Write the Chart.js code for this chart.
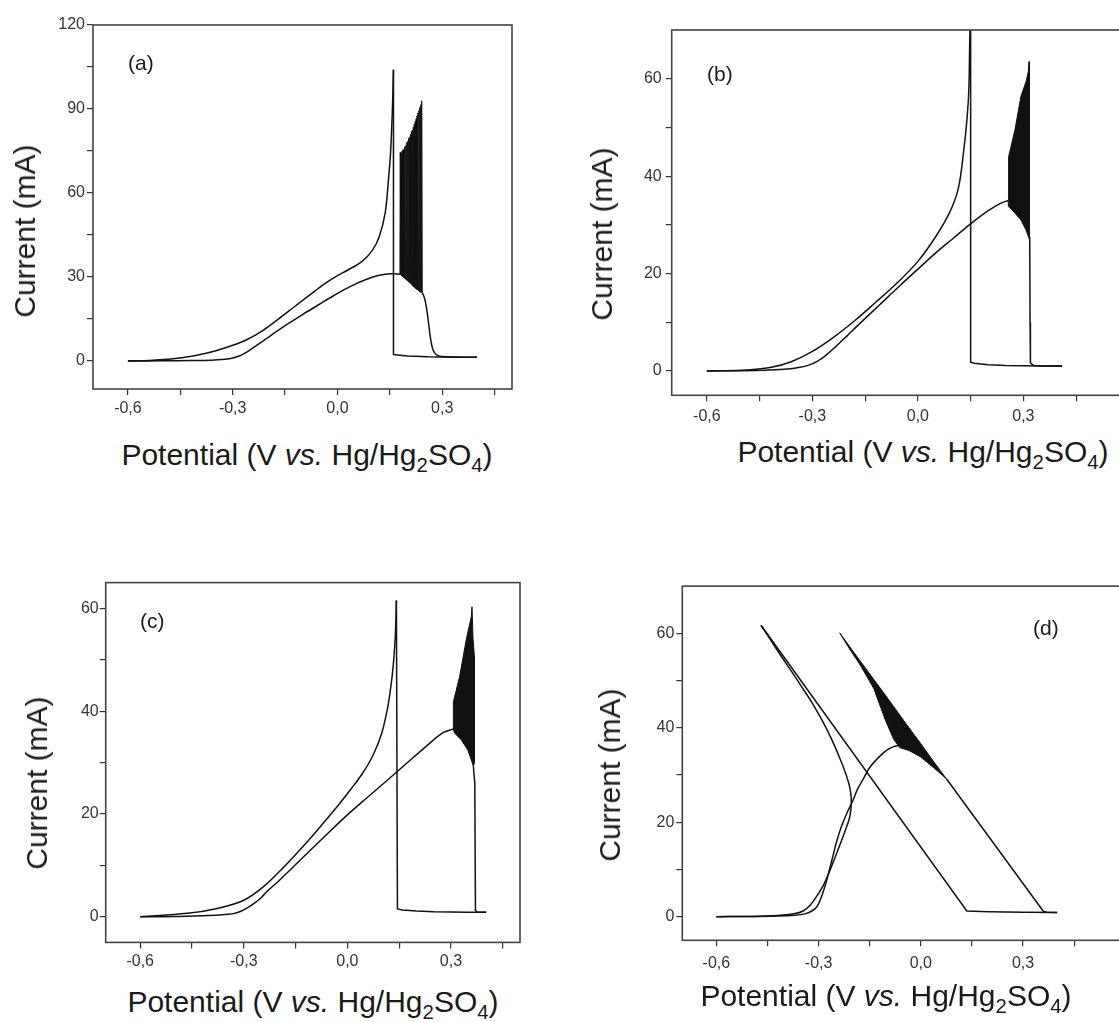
<!DOCTYPE html>
<html>
<head>
<meta charset="utf-8">
<title>Voltammograms (a)-(d)</title>
<script src="https://cdn.jsdelivr.net/npm/chart.js@4"></script>
<style>
  body { margin: 0; width: 1119px; height: 1022px; overflow: hidden; background: #fff;
         font-family: "Liberation Sans", Arial, sans-serif; color: #1a1a1a; }
  .panel { position: absolute; }
  .xt, .yt, .lab { position: absolute; white-space: nowrap; line-height: 30px; }
  .xt, .yt { font-size: 30px; }
  .xt { transform: translate(-50%, -50%); }
  .yt { transform: translate(-50%, -50%) rotate(-90deg); }
  .lab { font-size: 21px; line-height: 21px; transform: translateY(-50%); }
  sub { font-size: 0.68em; vertical-align: -0.32em; line-height: 0; }
</style>
</head>
<body>

<div class="panel" style="left:0;top:0;width:540px;height:425px"><canvas id="chartA"></canvas></div>
<div class="panel" style="left:560px;top:0;width:580px;height:430px"><canvas id="chartB"></canvas></div>
<div class="panel" style="left:0;top:540px;width:540px;height:440px"><canvas id="chartC"></canvas></div>
<div class="panel" style="left:560px;top:540px;width:580px;height:440px"><canvas id="chartD"></canvas></div>

<div class="lab" style="left:128px;top:62px">(a)</div>
<div class="lab" style="left:707px;top:73px">(b)</div>
<div class="lab" style="left:140px;top:620px">(c)</div>
<div class="lab" style="left:1033px;top:627px">(d)</div>

<div class="yt" style="left:25px;top:231px">Current (mA)</div>
<div class="yt" style="left:602px;top:234px">Current (mA)</div>
<div class="yt" style="left:37px;top:783px">Current (mA)</div>
<div class="yt" style="left:610px;top:775px">Current (mA)</div>

<div class="xt" style="left:307px;top:455px">Potential (V <i>vs.</i> Hg/Hg<sub>2</sub>SO<sub>4</sub>)</div>
<div class="xt" style="left:923px;top:452px">Potential (V <i>vs.</i> Hg/Hg<sub>2</sub>SO<sub>4</sub>)</div>
<div class="xt" style="left:313px;top:1002px">Potential (V <i>vs.</i> Hg/Hg<sub>2</sub>SO<sub>4</sub>)</div>
<div class="xt" style="left:886px;top:996px">Potential (V <i>vs.</i> Hg/Hg<sub>2</sub>SO<sub>4</sub>)</div>

<script>
// tick values and labels (potential axis is the same on all four panels)
const xTicks = [-0.6, -0.45, -0.3, -0.15, 0, 0.15, 0.3, 0.45];
const xTickText = ['-0,6', '', '-0,3', '', '0,0', '', '0,3', ''];
const yTicksA = [0, 15, 30, 45, 60, 75, 90, 105, 120];
const yTickTextA = ['0', '', '30', '', '60', '', '90', '', '120'];
const yTicks = [0, 10, 20, 30, 40, 50, 60];
const yTickText = ['0', '', '20', '', '40', '', '60'];

// ---- panel (a) ----
const aFwdV = [-0.6, -0.5, -0.42, -0.36, -0.33, -0.305, -0.285, -0.265, -0.245, -0.225, -0.2, -0.17, -0.14, -0.1, -0.055, -0.01, 0.035, 0.08, 0.12, 0.155, 0.179];
const aFwdI = [0, 0.05, 0.15, 0.3, 0.5, 0.9, 1.6, 2.8, 4.4, 6.1, 8.3, 10.9, 13.4, 16.6, 20.0, 23.4, 26.5, 29.0, 30.6, 31.2, 31.0];
const aOscV = [0.179, 0.18, 0.1817, 0.1827, 0.1843, 0.1853, 0.187, 0.188, 0.1897, 0.1907, 0.1923, 0.1933, 0.195, 0.196, 0.1977, 0.1987,
  0.2003, 0.2013, 0.203, 0.204, 0.2057, 0.2067, 0.2083, 0.2093, 0.211, 0.212, 0.2137, 0.2147, 0.2163, 0.2173, 0.219, 0.22,
  0.2217, 0.2227, 0.2243, 0.2253, 0.227, 0.228, 0.2297, 0.2307, 0.2323, 0.2333, 0.235, 0.236, 0.2377, 0.2387, 0.2403, 0.2413, 0.243];
const aOscI = [31, 74.5, 30.7, 74, 30.4, 75, 30.1, 75.5, 29.8, 74.5, 29.5, 76.5, 29.2, 77, 28.9, 78, 28.6, 78.5, 28.3, 79.5, 28, 80, 27.7, 81,
  27.4, 82, 27.1, 82.5, 26.8, 83.5, 26.5, 84.5, 26.2, 85.5, 25.9, 86.5, 25.6, 87.5, 25.3, 88.5, 25, 89.5, 24.8, 90.5, 24.6, 91.5, 24.4, 93, 24.3];
const aDecV = [0.243, 0.248, 0.253, 0.258, 0.263, 0.268, 0.273, 0.279, 0.287, 0.3, 0.33, 0.4];
const aDecI = [24.3, 23, 20.5, 16.5, 11.5, 7, 4.3, 2.8, 2.0, 1.6, 1.4, 1.3];
const aJumpV = [0.4, 0.33, 0.26, 0.2, 0.165, 0.161, 0.1605];
const aJumpI = [1.3, 1.35, 1.5, 1.8, 2.2, 2.4, 104];
const aRevV = [0.1605, 0.1585, 0.156, 0.152, 0.146, 0.137, 0.12, 0.1, 0.07, 0.03, 0.0, -0.04, -0.08, -0.125, -0.17, -0.215, -0.26, -0.3, -0.35, -0.41, -0.47, -0.54, -0.6];
const aRevI = [104, 94, 85, 74, 64.5, 53, 44.5, 39.5, 35.5, 32.5, 30.5, 27.3, 23.5, 19.2, 14.9, 10.8, 7.6, 5.6, 3.6, 1.9, 0.8, 0.2, 0];

// ---- panel (b) ----
const bFwdV = [-0.6, -0.5, -0.42, -0.37, -0.34, -0.31, -0.285, -0.26, -0.235, -0.2, -0.17, -0.11, -0.05, 0.0, 0.05, 0.1, 0.15, 0.2, 0.235, 0.257];
const bFwdI = [0, 0.05, 0.2, 0.4, 0.7, 1.2, 2.0, 3.3, 4.9, 7.3, 9.4, 13.5, 17.6, 20.9, 24.2, 27.2, 30.2, 32.9, 34.4, 35];
const bBandV = [0.257, 0.258, 0.276, 0.293, 0.308, 0.314, 0.316, 0.318, 0.318, 0.316, 0.307, 0.293, 0.276, 0.258, 0.257];
const bBandI = [35, 44, 49.5, 56.4, 59.5, 61.5, 63.5, 60, 27.5, 27, 29, 31, 32.4, 33.8, 35];
const bDropV = [0.318, 0.319, 0.32, 0.33, 0.36, 0.41];
const bDropI = [27.5, 10, 1.6, 1.1, 1.0, 1.0];
const bJumpV = [0.41, 0.35, 0.3, 0.25, 0.2, 0.16, 0.151, 0.15];
const bJumpI = [1.0, 1.0, 1.05, 1.1, 1.25, 1.6, 1.8, 74];
const bRevV = [0.15, 0.1475, 0.145, 0.14, 0.13, 0.115, 0.09, 0.05, 0.0, -0.06, -0.12, -0.18, -0.24, -0.3, -0.36, -0.42, -0.5, -0.6];
const bRevI = [74, 68, 58, 52, 45, 37.5, 32.5, 27.5, 22.5, 18.0, 14.1, 10.3, 6.9, 4.0, 1.9, 0.7, 0.15, 0];

// ---- panel (c) ----
const cFwdV = [-0.6, -0.5, -0.42, -0.37, -0.33, -0.31, -0.29, -0.27, -0.25, -0.233, -0.2, -0.175, -0.117, -0.06, 0.0, 0.056, 0.113, 0.171, 0.229, 0.277, 0.306];
const cFwdI = [0, 0.05, 0.2, 0.35, 0.6, 1.0, 1.7, 2.6, 3.7, 4.9, 6.9, 8.5, 12.3, 16.0, 19.8, 23.1, 26.4, 29.8, 33.2, 35.8, 36.5];
const cBandV = [0.306, 0.307, 0.325, 0.344, 0.359, 0.361, 0.364, 0.368, 0.368, 0.365, 0.359, 0.349, 0.33, 0.311, 0.306];
const cBandI = [36.5, 41.8, 46.7, 53.8, 58.4, 60.3, 54, 50.6, 30, 29.2, 30.5, 32.4, 34.4, 35.7, 36.5];
const cDropV = [0.365, 0.369, 0.371, 0.376, 0.402];
const cDropI = [29.2, 26, 1.2, 0.9, 0.85];
const cJumpV = [0.402, 0.35, 0.3, 0.25, 0.2, 0.16, 0.145, 0.142];
const cJumpI = [0.85, 0.85, 0.9, 0.95, 1.1, 1.3, 1.5, 61.5];
const cRevV = [0.142, 0.1405, 0.138, 0.133, 0.126, 0.117, 0.1, 0.075, 0.045, 0.01, -0.03, -0.075, -0.12, -0.185, -0.242, -0.3, -0.377, -0.463, -0.6];
const cRevI = [61.5, 57.5, 53.5, 49, 44.8, 40.8, 35.8, 31.5, 28.0, 24.8, 21.4, 17.8, 14.3, 9.6, 5.9, 3.2, 1.6, 0.65, 0];

// ---- panel (d) ----
const dFwdV = [-0.6, -0.5, -0.42, -0.37, -0.34, -0.32, -0.305, -0.295, -0.285, -0.275, -0.266, -0.256, -0.246, -0.232, -0.217, -0.2, -0.187, -0.168, -0.148, -0.12, -0.099, -0.08, -0.065];
const dFwdI = [0, 0.05, 0.12, 0.3, 0.6, 1.2, 2.1, 3.6, 5.6, 8.0, 10.6, 13.4, 16.2, 19.3, 21.9, 24.5, 26.8, 29.3, 31.8, 34.0, 35.3, 36.0, 36.3];
const dBandV = [-0.238, -0.2, -0.15, -0.1, -0.05, 0.0, 0.04, 0.075, 0.04, 0.0, -0.035, -0.062, -0.08, -0.104, -0.138, -0.178, -0.212, -0.238];
const dBandI = [60.1, 56.3, 51.4, 46.5, 41.5, 36.6, 32.6, 29.2, 31.4, 33.8, 35.2, 35.8, 37.6, 41.6, 48.3, 53.3, 57, 60.1];
const dPassV = [0.075, 0.36, 0.37, 0.4];
const dPassI = [29.2, 1.1, 0.95, 0.9];
const dLineV = [0.4, 0.3, 0.2, 0.135, -0.469];
const dLineI = [0.9, 0.95, 1.05, 1.2, 61.7];
const dRetV = [-0.469, -0.44, -0.41, -0.38, -0.35, -0.32, -0.29, -0.262, -0.238, -0.219, -0.207, -0.204, -0.209, -0.222, -0.236, -0.252, -0.268, -0.285, -0.305, -0.325, -0.345, -0.373, -0.42, -0.5, -0.6];
const dRetI = [61.7, 58.5, 55.2, 52.0, 48.7, 45.4, 41.6, 37.6, 33.6, 30, 26.8, 24, 21, 18.2, 15.5, 12.5, 9.6, 6.8, 4.4, 2.4, 1.2, 0.6, 0.25, 0.06, 0];

const INK = '#111';
const FONT = '"Liberation Sans", Arial, sans-serif';

function trace(vs, is, extra) {
  return Object.assign({
    data: vs.map((v, k) => ({ x: v, y: is[k] })),
    showLine: true,
    pointRadius: 0,
    borderColor: INK,
    borderWidth: 1.5,
    tension: 0,
    fill: false
  }, extra || {});
}
function smooth(vs, is) { return trace(vs, is, { tension: 0.35 }); }
function band(vs, is) { return trace(vs, is, { fill: 'shape', backgroundColor: INK, borderWidth: 1 }); }

// box around the plot area
const framePlugin = {
  id: 'frame',
  afterDatasetsDraw(chart) {
    const { ctx, chartArea: a } = chart;
    ctx.save();
    ctx.strokeStyle = '#444';
    ctx.lineWidth = 1.6;
    ctx.strokeRect(a.left, a.top, a.right - a.left, a.bottom - a.top);
    ctx.restore();
  }
};

function makePanel(id, p) {
  new Chart(document.getElementById(id), {
    type: 'scatter',
    data: { datasets: p.sets },
    options: {
      responsive: true,
      maintainAspectRatio: false,
      animation: false,
      events: [],
      layout: { padding: { top: p.padTop, right: p.padRight, left: 0, bottom: 0 } },
      plugins: { legend: { display: false }, tooltip: { enabled: false } },
      scales: {
        x: {
          type: 'linear', min: -0.7, max: p.xMax,
          afterFit: s => { s.height = p.xH; },
          afterBuildTicks: s => { s.ticks = xTicks.map(v => ({ value: v })); },
          grid: { drawOnChartArea: false, tickLength: 6, color: '#333', lineWidth: 1.2 },
          border: { display: false },
          ticks: { callback: (v, i) => xTickText[i], autoSkip: false, maxRotation: 0,
                   padding: p.xPad, color: '#333', font: { family: FONT, size: 16 } }
        },
        y: {
          type: 'linear', min: p.yMin, max: p.yMax,
          afterFit: s => { s.width = p.yW; },
          afterBuildTicks: s => { s.ticks = p.yTicks.map(v => ({ value: v })); },
          grid: { drawOnChartArea: false, tickLength: 6, color: '#333', lineWidth: 1.2 },
          border: { display: false },
          ticks: { callback: (v, i) => p.yText[i], autoSkip: false,
                   padding: p.yPad, color: '#333', font: { family: FONT, size: 16 } }
        }
      }
    },
    plugins: [framePlugin]
  });
}

makePanel('chartA', {
  padTop: 25, padRight: 28, yW: 93, xH: 36, xPad: 4, yPad: 2,
  xMax: 0.5, yMin: -10, yMax: 120, yTicks: yTicksA, yText: yTickTextA,
  sets: [smooth(aFwdV, aFwdI), trace(aOscV, aOscI, { borderWidth: 1 }), smooth(aDecV, aDecI),
         trace(aJumpV, aJumpI), smooth(aRevV, aRevI)]
});
makePanel('chartB', {
  padTop: 30, padRight: 11.1, yW: 111.7, xH: 34.7, xPad: 6, yPad: 4,
  xMax: 0.6, yMin: -5, yMax: 70, yTicks: yTicks, yText: yTickText,
  sets: [smooth(bFwdV, bFwdI), band(bBandV, bBandI), trace(bDropV, bDropI),
         trace(bJumpV, bJumpI), smooth(bRevV, bRevI)]
});
makePanel('chartC', {
  padTop: 42.6, padRight: 20, yW: 105.7, xH: 37.6, xPad: 4, yPad: 1,
  xMax: 0.5, yMin: -5, yMax: 65, yTicks: yTicks, yText: yTickText,
  sets: [smooth(cFwdV, cFwdI), band(cBandV, cBandI), trace(cDropV, cDropI),
         trace(cJumpV, cJumpI), smooth(cRevV, cRevI)]
});
makePanel('chartD', {
  padTop: 46.1, padRight: 14.7, yW: 122.3, xH: 39.7, xPad: 8, yPad: 2,
  xMax: 0.6, yMin: -5, yMax: 70, yTicks: yTicks, yText: yTickText,
  sets: [smooth(dFwdV, dFwdI), band(dBandV, dBandI), trace(dPassV, dPassI),
         trace(dLineV, dLineI), smooth(dRetV, dRetI)]
});
</script>
</body>
</html>
